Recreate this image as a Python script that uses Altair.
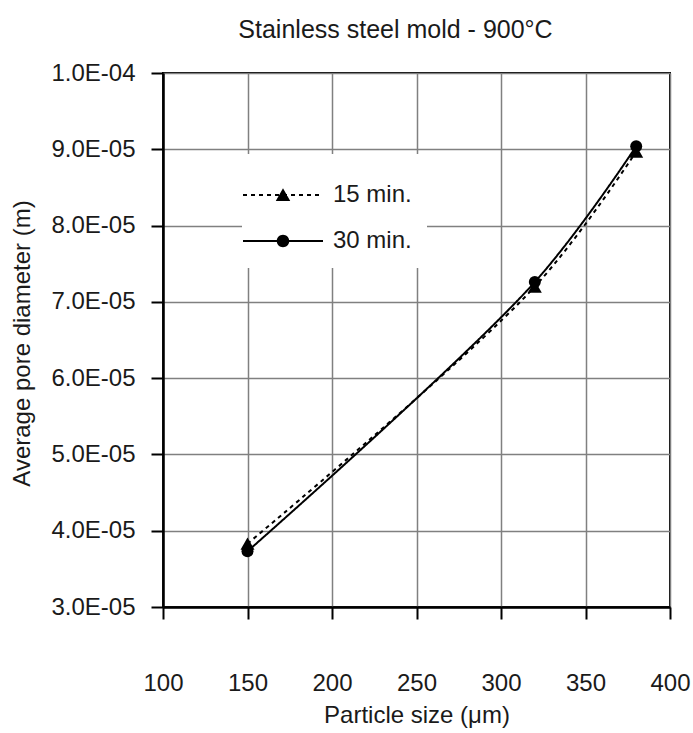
import altair as alt
import pandas as pd

# ---- data ----
particle_size = [150, 320, 380]
series_names = ["15 min.", "30 min."]
pore_15 = [3.83e-05, 7.20e-05, 8.97e-05]
pore_30 = [3.73e-05, 7.26e-05, 9.04e-05]
x_ticks = [100, 150, 200, 250, 300, 350, 400]
y_ticks = [3.0e-05, 4.0e-05, 5.0e-05, 6.0e-05, 7.0e-05, 8.0e-05, 9.0e-05, 1.0e-04]

rows = []
for name, vals in zip(series_names, [pore_15, pore_30]):
    for xv, yv in zip(particle_size, vals):
        rows.append({"size": xv, "pore": yv, "series": name})
df = pd.DataFrame(rows)

FONT = "Liberation Sans"
TXT = "#1a1a1a"
FS = 24


# legend symbols (unit space, 1 unit = 25 px): a line with the marker in its middle,
# drawn with filled sub-paths only
def _rect(x0, x1, h=0.04):
    return f"M{x0:.2f},{-h}L{x1:.2f},{-h}L{x1:.2f},{h}L{x0:.2f},{h}Z"


DOTTED = "".join(_rect(-1.6 + i * 0.32, -1.6 + i * 0.32 + 0.16) for i in range(10))
SOLID = _rect(-1.6, 1.6)
TRI_PATH = DOTTED + "M0,-0.27L0.29,0.24L-0.29,0.24Z"
CIRC_PATH = SOLID + "M-0.25,0A0.25,0.25 0 1,1 0.25,0A0.25,0.25 0 1,1 -0.25,0Z"

legend = alt.Legend(
    title=None, orient="none", legendX=79, legendY=81, padding=15,
    fillColor="white", symbolSize=2500, symbolStrokeWidth=2,
    symbolFillColor="black", symbolStrokeColor="black", symbolOpacity=1,
    labelFont=FONT, labelFontSize=FS, labelColor=TXT, labelOffset=24,
    rowPadding=8, labelLimit=0,
)

y_label_expr = (
    "format(datum.value / pow(10, floor(log(datum.value)/LN10 + 1e-6)), '.1f')"
    " + 'E-' + ((-floor(log(datum.value)/LN10 + 1e-6)) < 10 ? '0' : '')"
    " + (-floor(log(datum.value)/LN10 + 1e-6))"
)

x_enc = alt.X(
    "size:Q",
    scale=alt.Scale(domain=[100, 400], nice=False, zero=False),
    axis=alt.Axis(values=x_ticks, title="Particle size (μm)", labelPadding=52,
                  labelFlush=False, labelOverlap=False,
                  titleY=108, titleBaseline="middle"),
)
y_enc = alt.Y(
    "pore:Q",
    scale=alt.Scale(domain=[3e-05, 1e-04], nice=False, zero=False),
    axis=alt.Axis(values=y_ticks, labelExpr=y_label_expr, labelPadding=16,
                  title="Average pore diameter (m)", titleAngle=270,
                  titleX=-141, titleY=270, titleBaseline="middle",
                  titleAlign="center"),
)

base = alt.Chart(df).encode(x=x_enc, y=y_enc)

lines = base.mark_line(color="black", strokeWidth=2, interpolate="catmull-rom").encode(
    strokeDash=alt.StrokeDash(
        "series:N",
        scale=alt.Scale(domain=series_names, range=[[4, 4], [1, 0]]),
        legend=legend,
    )
)

legend_layer = base.mark_point(
    opacity=0, filled=True, fill="black", stroke="black", strokeWidth=2
).encode(
    shape=alt.Shape(
        "series:N",
        scale=alt.Scale(domain=series_names, range=[TRI_PATH, CIRC_PATH]),
        legend=legend,
    )
)

tri_pts = base.transform_filter(alt.datum.series == series_names[0]).mark_point(
    shape="triangle-up", filled=True, color="black", size=196, opacity=1
)
circ_pts = base.transform_filter(alt.datum.series == series_names[1]).mark_point(
    shape="circle", filled=True, color="black", size=144, opacity=1
)

chart = (
    alt.layer(lines, tri_pts, circ_pts, legend_layer)
    .properties(
        width=507,
        height=534,
        autosize=alt.AutoSizeParams(type="none"),
        padding={"left": 163, "top": 73, "right": 23, "bottom": 126},
        title=alt.TitleParams(
            "Stainless steel mold - 900°C", font=FONT, fontSize=25,
            fontWeight="normal", color=TXT, anchor="middle", dx=-21, offset=18,
        ),
        background="white",
    )
    .configure_view(stroke="black", strokeWidth=2)
    .configure_axis(
        domainColor="black", domainWidth=2.5, tickColor="black", tickWidth=2,
        tickSize=12, gridColor="#808080", gridWidth=1.5, grid=True,
        labelFont=FONT, labelFontSize=FS, labelColor=TXT,
        titleFont=FONT, titleFontSize=FS, titleColor=TXT, titleFontWeight="normal",
    )
)

chart.save("out.html", embed_options={"renderer": "svg", "actions": False})
